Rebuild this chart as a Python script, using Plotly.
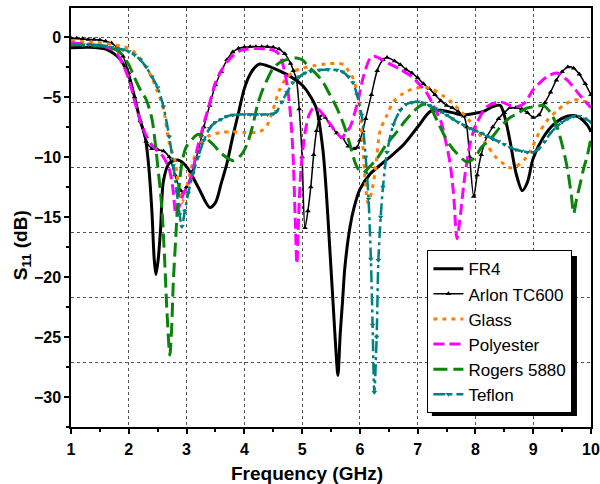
import plotly.graph_objects as go

# ---- S11 data (frequency in GHz, S11 in dB) ----
fr4_f = [1.0, 1.3, 1.6, 1.8, 1.9, 2.0, 2.1, 2.2, 2.28, 2.34, 2.4, 2.44, 2.47, 2.51, 2.55, 2.6, 2.7, 2.85,
         3.0, 3.2, 3.4, 3.5, 3.6, 3.7, 3.8, 3.9, 4.0, 4.1, 4.2, 4.27, 4.4, 4.6, 4.8, 5.0, 5.15, 5.25,
         5.36, 5.42, 5.48, 5.54, 5.59, 5.62, 5.66, 5.7, 5.74, 5.83, 5.9, 6.0, 6.18, 6.47, 6.75, 7.0,
         7.22, 7.4, 7.6, 7.79, 7.95, 8.14, 8.3, 8.43, 8.51, 8.6, 8.7, 8.81, 8.9, 9.0, 9.17, 9.35, 9.59,
         9.76, 9.93, 10.0]
fr4_s = [-0.9, -0.85, -1.0, -1.6, -2.2, -3.2, -5.0, -7.0, -8.2, -10.5, -14.5, -18.5, -19.8, -18.5, -16.0,
         -12.0, -10.5, -10.25, -10.8, -12.5, -14.2, -13.8, -12.2, -10.5, -8.3, -6.3, -4.3, -3.1, -2.45,
         -2.25, -2.4, -2.8, -3.3, -4.0, -5.0, -6.0, -9.4, -13.0, -17.7, -22.5, -26.5, -28.2, -24.7, -22.0,
         -19.2, -15.8, -14.2, -12.7, -11.4, -10.2, -9.0, -7.5, -6.2, -6.1, -6.3, -6.5, -6.4, -6.2, -5.8,
         -5.7, -6.7, -8.7, -11.3, -12.8, -12.1, -10.1, -8.4, -7.3, -6.6, -6.6, -7.3, -7.9]

arlon_f = [1.0, 1.1, 1.2, 1.3, 1.4, 1.5, 1.6, 1.7, 1.8, 1.9, 2.0, 2.1, 2.2, 2.3, 2.4, 2.5, 2.6, 2.7,
           2.8, 2.9, 2.95, 3.0, 3.1, 3.2, 3.3, 3.4, 3.5, 3.6, 3.7, 3.8, 3.9, 4.0, 4.1, 4.2, 4.3, 4.4,
           4.5, 4.6, 4.7, 4.8, 4.85, 4.9, 4.95, 5.0, 5.05, 5.1, 5.15, 5.2, 5.25, 5.3, 5.35, 5.4, 5.5,
           5.6, 5.7, 5.8, 5.9, 5.95, 6.0, 6.05, 6.1, 6.2, 6.3, 6.4, 6.47, 6.6, 6.7, 6.8, 6.9, 7.0, 7.1,
           7.2, 7.3, 7.4, 7.5, 7.6, 7.7, 7.8, 7.85, 7.9, 7.97, 8.03, 8.1, 8.2, 8.3, 8.4, 8.5, 8.6, 8.7,
           8.8, 8.9, 9.0, 9.1, 9.2, 9.3, 9.4, 9.5, 9.6, 9.7, 9.8, 9.9, 10.0]
arlon_s = [-0.1, -0.1, -0.15, -0.2, -0.2, -0.25, -0.35, -0.5, -0.9, -1.6, -3.0, -5.0, -7.0, -8.7, -9.3,
           -9.4, -9.5, -10.0, -11.5, -12.8, -13.0, -12.5, -11.2, -9.5, -7.5, -5.7, -4.0, -2.9, -1.9,
           -1.25, -0.95, -0.85, -0.8, -0.8, -0.8, -0.8, -0.85, -1.0, -1.4, -2.2, -2.8, -3.5, -6.0,
           -10.0, -15.9, -14.5, -12.5, -9.8, -7.8, -6.8, -6.5, -6.7, -7.4, -8.0, -8.4, -9.1, -9.3, -9.2,
           -8.6, -7.8, -6.8, -4.8, -2.8, -1.9, -1.7, -2.0, -2.3, -2.7, -3.0, -3.4, -3.9, -4.3, -4.8,
           -5.3, -5.7, -5.9, -6.2, -6.6, -7.5, -10.0, -13.3, -11.5, -9.8, -8.3, -7.5, -6.8, -6.3, -5.9,
           -5.9, -6.0, -6.3, -6.7, -6.5, -5.5, -4.6, -3.6, -2.9, -2.5, -2.6, -3.1, -3.9, -4.8]

glass_f = [1.0, 1.3, 1.5, 1.7, 1.9, 2.0, 2.1, 2.2, 2.3, 2.4, 2.5, 2.6, 2.7, 2.8, 2.85, 2.92, 2.98, 3.05,
           3.15, 3.25, 3.4, 3.6, 3.8, 4.0, 4.2, 4.3, 4.4, 4.5, 4.6, 4.7, 4.85, 5.0, 5.2, 5.4, 5.6, 5.72,
           5.8, 5.88, 5.95, 6.0, 6.05, 6.1, 6.14, 6.2, 6.27, 6.35, 6.47, 6.58, 6.75, 6.9, 7.1, 7.25,
           7.44, 7.6, 7.75, 7.9, 8.05, 8.2, 8.35, 8.5, 8.6, 8.7, 8.85, 8.95, 9.1, 9.25, 9.4, 9.55, 9.7,
           9.85, 10.0]
glass_s = [-0.35, -0.4, -0.5, -0.6, -0.8, -0.95, -1.3, -1.8, -2.5, -3.4, -4.6, -6.0, -8.8, -10.3, -12.0,
           -13.8, -13.0, -11.5, -9.8, -8.8, -8.2, -7.95, -7.9, -7.95, -7.95, -7.8, -7.3, -6.0, -4.5, -3.6,
           -2.9, -2.6, -2.4, -2.25, -2.2, -2.3, -2.8, -3.4, -4.6, -6.2, -9.0, -12.5, -13.8, -13.0, -11.0,
           -7.8, -6.5, -5.4, -4.7, -4.35, -4.2, -4.35, -4.9, -5.5, -6.2, -7.0, -8.0, -9.0, -10.0, -10.6,
           -10.9, -10.8, -10.2, -9.5, -8.0, -6.9, -6.2, -5.6, -5.25, -5.3, -5.6]

poly_f = [1.0, 1.3, 1.5, 1.7, 1.8, 1.9, 2.0, 2.1, 2.2, 2.3, 2.4, 2.5, 2.6, 2.7, 2.76, 2.82, 2.88, 2.95,
          3.06, 3.2, 3.3, 3.4, 3.5, 3.6, 3.75, 3.9, 4.0, 4.2, 4.4, 4.55, 4.62, 4.68, 4.74, 4.79, 4.84,
          4.88, 4.91, 4.94, 4.98, 5.05, 5.12, 5.2, 5.3, 5.43, 5.6, 5.69, 5.75, 5.83, 5.97, 6.06, 6.18,
          6.25, 6.35, 6.5, 6.7, 6.9, 7.0, 7.15, 7.27, 7.4, 7.5, 7.56, 7.62, 7.68, 7.74, 7.8, 7.85, 7.92,
          8.03, 8.2, 8.43, 8.6, 8.72, 8.85, 9.0, 9.24, 9.41, 9.59, 9.8, 10.0]
poly_s = [-0.5, -0.6, -0.7, -1.0, -1.4, -2.3, -3.5, -5.3, -7.0, -8.2, -9.0, -9.5, -10.0, -11.0, -12.5,
          -14.8, -14.0, -13.0, -12.0, -9.0, -7.2, -5.5, -3.8, -2.8, -1.8, -1.2, -1.05, -0.95, -1.0, -1.2,
          -1.6, -2.5, -4.0, -6.0, -9.5, -15.0, -18.9, -15.0, -11.0, -8.0, -6.5, -5.9, -6.1, -6.9, -8.0,
          -8.4, -8.0, -7.5, -5.25, -3.3, -1.75, -1.6, -1.8, -2.2, -2.7, -3.3, -3.8, -4.6, -5.7, -7.0,
          -9.0, -10.5, -13.0, -16.8, -14.8, -12.2, -10.5, -8.6, -7.1, -5.8, -5.4, -5.7, -5.8, -5.5, -4.4,
          -3.3, -3.0, -3.6, -4.8, -5.9]

rogers_f = [1.0, 1.3, 1.5, 1.7, 1.85, 2.0, 2.1, 2.2, 2.3, 2.4, 2.45, 2.5, 2.55, 2.58, 2.62, 2.66, 2.71,
            2.74, 2.77, 2.81, 2.86, 2.93, 3.0, 3.1, 3.2, 3.3, 3.45, 3.6, 3.75, 3.82, 3.95, 4.05, 4.15,
            4.22, 4.3, 4.4, 4.5, 4.62, 4.75, 4.9, 5.0, 5.14, 5.25, 5.36, 5.48, 5.6, 5.72, 5.83, 5.92,
            6.0, 6.06, 6.15, 6.3, 6.45, 6.64, 6.8, 6.95, 7.1, 7.2, 7.3, 7.44, 7.56, 7.68, 7.85, 8.0,
            8.1, 8.26, 8.43, 8.6, 8.72, 8.9, 9.05, 9.17, 9.3, 9.4, 9.47, 9.55, 9.6, 9.66, 9.7, 9.75,
            9.81, 9.87, 9.93, 10.0]
rogers_s = [-0.6, -0.7, -0.75, -0.9, -1.3, -2.3, -3.4, -4.4, -5.2, -6.8, -8.5, -10.7, -13.0, -14.8,
            -18.5, -22.8, -26.5, -24.5, -20.5, -17.0, -13.0, -10.2, -9.1, -8.5, -8.1, -8.3, -8.9, -9.7,
            -10.2, -10.3, -9.8, -8.9, -7.3, -5.8, -4.6, -3.5, -2.6, -2.1, -1.85, -1.75, -1.9, -2.6,
            -3.1, -3.75, -4.8, -5.9, -7.3, -9.0, -10.5, -11.2, -11.3, -10.9, -10.1, -9.0, -7.9, -6.9,
            -6.1, -5.6, -5.7, -6.6, -8.0, -9.0, -9.7, -10.4, -10.0, -9.2, -8.5, -7.5, -6.7, -6.4, -5.9,
            -5.8, -5.7, -6.3, -7.3, -8.4, -10.0, -11.2, -13.2, -14.7, -13.5, -12.3, -11.0, -10.0, -8.4]

teflon_f = [1.0, 1.1, 1.2, 1.3, 1.4, 1.5, 1.6, 1.7, 1.8, 1.9, 2.0, 2.1, 2.2, 2.3, 2.4, 2.5, 2.6, 2.7,
            2.77, 2.83, 2.88, 2.92, 2.97, 3.03, 3.11, 3.2, 3.3, 3.4, 3.5, 3.6, 3.7, 3.8, 3.9, 4.0, 4.1,
            4.2, 4.3, 4.4, 4.5, 4.56, 4.65, 4.74, 4.84, 4.95, 5.05, 5.15, 5.3, 5.45, 5.6, 5.7, 5.8,
            5.88, 5.95, 6.03, 6.1, 6.15, 6.19, 6.22, 6.25, 6.29, 6.32, 6.36, 6.4, 6.47, 6.58, 6.7, 6.8,
            6.9, 7.0, 7.1, 7.2, 7.3, 7.4, 7.5, 7.6, 7.7, 7.8, 7.9, 8.0, 8.1, 8.2, 8.3, 8.4, 8.5, 8.6,
            8.7, 8.8, 8.9, 9.0, 9.1, 9.2, 9.3, 9.4, 9.5, 9.6, 9.7, 9.8, 9.9, 10.0]
teflon_s = [-0.6, -0.6, -0.65, -0.65, -0.7, -0.7, -0.75, -0.85, -0.95, -1.05, -1.2, -1.5, -1.9, -2.5,
            -3.3, -4.2, -5.8, -8.3, -10.7, -12.9, -14.8, -15.8, -14.5, -13.0, -11.4, -10.0, -8.6, -7.6,
            -7.1, -6.85, -6.6, -6.5, -6.45, -6.45, -6.45, -6.45, -6.45, -6.45, -6.4, -6.2, -5.4, -4.6,
            -3.8, -3.3, -3.0, -2.85, -2.75, -2.7, -2.75, -2.9, -3.3, -3.8, -4.8, -6.5, -10.0, -13.5,
            -18.5, -24.0, -29.6, -25.0, -18.6, -15.0, -12.5, -9.6, -7.3, -6.1, -5.6, -5.45, -5.4, -5.5,
            -5.7, -5.95, -6.2, -6.5, -6.8, -7.1, -7.35, -7.6, -7.8, -8.0, -8.25, -8.5, -8.7, -8.95,
            -9.2, -9.4, -9.5, -9.6, -9.6, -9.3, -8.7, -8.0, -7.5, -7.1, -6.8, -6.6, -6.6, -6.8, -7.1]

x_ticks = [1, 2, 3, 4, 5, 6, 7, 8, 9, 10]
y_ticks = [0, -5, -10, -15, -20, -25, -30]

FONT = "Arial, Liberation Sans, sans-serif"

fig = go.Figure()

def curve(x, y, name, color, width, dash="solid", marker=None, smoothing=0.8):
    kw = dict(x=x, y=y, name=name, line=dict(color=color, width=width, dash=dash,
                                              shape="spline", smoothing=smoothing))
    if marker:
        kw["mode"] = "lines+markers"
        kw["marker"] = dict(symbol=marker, size=5, color=color)
    else:
        kw["mode"] = "lines"
    fig.add_trace(go.Scatter(**kw))

curve(fr4_f, fr4_s, "FR4", "#000000", 3)
curve(arlon_f, arlon_s, "Arlon TC600", "#000000", 1.5, marker="triangle-up")
curve(glass_f, glass_s, "Glass", "#FF8000", 3, dash="4px,5px")
curve(poly_f, poly_s, "Polyester", "#FF00FF", 3, dash="11px,5px")
curve(rogers_f, rogers_s, "Rogers 5880", "#0A840A", 3, dash="14px,6px")
curve(teflon_f, teflon_s, "Teflon", "#008080", 2.5, dash="12px,4px,3px,4px", marker="triangle-down")

# empty trace keeping the horizontal-grid axis alive
fig.add_trace(go.Scatter(x=[], y=[], yaxis="y2", showlegend=False, hoverinfo="skip"))

tick_font = dict(family=FONT, size=16, color="black", weight="bold")
title_font = dict(family=FONT, size=19, color="black", weight="bold")

fig.update_layout(
    width=600, height=484,
    margin=dict(l=71, r=9, t=8, b=57, autoexpand=False),
    paper_bgcolor="white", plot_bgcolor="white",
    font=dict(family=FONT, color="black"),
    xaxis=dict(
        range=[1, 10], tickvals=x_ticks, ticks="outside", ticklen=5, tickwidth=1.5,
        tickcolor="black", linecolor="black", linewidth=1.5, mirror=True, automargin=False,
        showgrid=True, gridcolor="#555555", griddash="dot", gridwidth=1,
        tickfont=tick_font, zeroline=False, ticklabelstandoff=2,
        minor=dict(dtick=0.5, ticks="outside", ticklen=3, tickcolor="black", showgrid=False),
    ),
    yaxis=dict(
        range=[-32.5, 2.42], tickvals=y_ticks, ticks="outside", ticklen=5, tickwidth=1.5,
        tickcolor="black", linecolor="black", linewidth=1.5, mirror=True, automargin=False,
        showgrid=False, zeroline=False, tickfont=tick_font,
        minor=dict(dtick=2.5, tick0=0, ticks="outside", ticklen=3, tickcolor="black", showgrid=False),
    ),
    yaxis2=dict(
        overlaying="y", range=[0.015, 6.461], dtick=1, tick0=0, showticklabels=False,
        ticks="", showline=False, zeroline=False, showgrid=True, automargin=False,
        gridcolor="#555555", griddash="dot", gridwidth=1,
    ),
    legend=dict(
        x=0.685, y=0.4224, xanchor="left", yanchor="top",
        bgcolor="white", bordercolor="black", borderwidth=1.2,
        font=dict(family=FONT, size=17, color="black"),
        tracegroupgap=0, itemwidth=30,
    ),
    showlegend=True,
    annotations=[
        dict(text="Frequency (GHz)", xref="paper", yref="paper", x=0.453, y=-0.11,
             xanchor="center", yanchor="middle", showarrow=False, font=title_font),
        dict(text="S<sub>11</sub> (dB)", xref="paper", yref="paper", x=-0.094, y=0.434,
             xanchor="center", yanchor="middle", textangle=-90, showarrow=False, font=title_font),
    ],
)

# drop shadow behind the legend box
fig.add_shape(type="rect", xref="paper", yref="paper",
              x0=0.694, x1=0.973, y0=0.026, y1=0.408,
              fillcolor="black", line=dict(width=0), layer="above")

fig.write_html("out.html")
